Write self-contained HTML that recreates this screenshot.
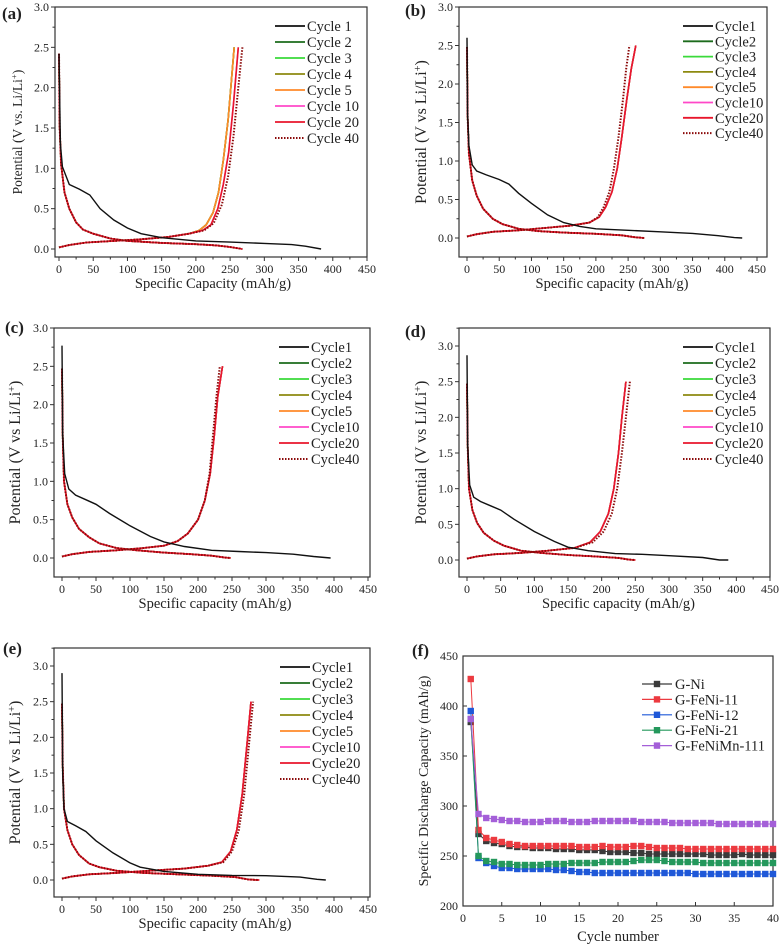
<!DOCTYPE html>
<html><head><meta charset="utf-8"><style>
html,body{margin:0;padding:0;background:#fff;width:780px;height:945px;overflow:hidden}
svg text{font-family:"Liberation Serif",serif;fill:#222}
</style></head><body>
<svg id="fig" width="780" height="945" viewBox="0 0 780 945" xmlns="http://www.w3.org/2000/svg"></svg>
<script>
// ---------- data: panel (a) ----------
const aC1 = [0,2.42, 2,1.3, 5,1.02, 15,0.8, 30,0.74, 45,0.67, 60,0.5, 80,0.36, 100,0.26, 120,0.19, 150,0.14, 200,0.1, 250,0.085, 300,0.07, 340,0.055, 360,0.035, 383,0];
const aDis = [0,2.42, 1,1.5, 3,1.05, 8,0.7, 15,0.5, 25,0.33, 35,0.24, 50,0.19, 75,0.13, 100,0.1, 150,0.075, 200,0.06, 230,0.045, 250,0.025, 268,0];
const aChE = [0,0.02, 15,0.05, 40,0.08, 80,0.1, 120,0.12, 160,0.15, 190,0.19, 205,0.23, 215,0.3, 225,0.45, 233,0.7, 240,1.1, 247,1.6, 252,2.1, 256,2.5];
const aChL = [0,0.02, 15,0.05, 40,0.08, 80,0.1, 120,0.12, 160,0.15, 190,0.19, 210,0.23, 222,0.3, 232,0.5, 240,0.8, 248,1.2, 255,1.8, 262,2.5];
const aCh40 = [0,0.02, 15,0.05, 40,0.08, 80,0.1, 120,0.12, 160,0.15, 190,0.19, 212,0.23, 226,0.32, 238,0.55, 247,0.9, 255,1.4, 262,2.0, 268,2.5];
// ---------- data: panel (b) ----------
const bC1 = [0,2.6, 1,1.6, 3,1.2, 8,0.95, 15,0.87, 30,0.82, 50,0.76, 65,0.7, 80,0.58, 100,0.45, 125,0.3, 150,0.2, 175,0.15, 200,0.12, 250,0.1, 300,0.08, 350,0.06, 390,0.03, 415,0.005, 427,0];
const bDis = [0,2.48, 1,1.6, 3,1.1, 8,0.75, 15,0.55, 25,0.38, 40,0.25, 55,0.18, 80,0.12, 110,0.09, 150,0.07, 200,0.055, 240,0.035, 260,0.01, 275,0];
const bChE = [0,0.02, 15,0.05, 40,0.08, 80,0.1, 120,0.13, 160,0.16, 190,0.2, 205,0.27, 215,0.4, 225,0.6, 233,0.9, 240,1.3, 248,1.8, 255,2.2, 262,2.5];
const bCh40 = [0,0.02, 15,0.05, 40,0.08, 80,0.1, 120,0.13, 160,0.16, 190,0.2, 203,0.27, 212,0.4, 221,0.6, 228,0.9, 235,1.3, 242,1.8, 247,2.2, 252,2.5];
// ---------- data: panel (c) ----------
const cC1 = [0,2.77, 1,1.6, 4,1.1, 10,0.9, 20,0.82, 35,0.76, 50,0.7, 70,0.58, 100,0.42, 130,0.28, 150,0.21, 180,0.15, 220,0.1, 260,0.085, 300,0.07, 340,0.05, 370,0.02, 395,0];
const cDis = [0,2.47, 1,1.6, 3,1.0, 8,0.7, 15,0.53, 25,0.38, 40,0.27, 55,0.19, 80,0.13, 110,0.1, 150,0.07, 190,0.05, 220,0.03, 240,0.005, 248,0];
const cChE = [0,0.02, 15,0.05, 40,0.08, 80,0.1, 120,0.13, 150,0.16, 170,0.22, 185,0.32, 200,0.5, 210,0.75, 218,1.1, 224,1.6, 229,2.1, 236,2.5];
const cCh40 = [0,0.02, 15,0.05, 40,0.08, 80,0.1, 120,0.13, 150,0.16, 170,0.22, 185,0.32, 200,0.5, 210,0.75, 217,1.1, 222,1.6, 227,2.1, 232,2.5];
// ---------- data: panel (d) ----------
const dC1 = [0,2.87, 1,1.6, 4,1.05, 10,0.88, 20,0.82, 35,0.76, 50,0.7, 70,0.57, 100,0.4, 130,0.26, 150,0.18, 180,0.13, 220,0.09, 260,0.08, 300,0.06, 350,0.035, 375,0, 388,0];
const dDis = [0,2.47, 1,1.6, 3,1.0, 8,0.7, 15,0.52, 25,0.38, 40,0.27, 55,0.2, 80,0.13, 110,0.1, 150,0.07, 190,0.05, 225,0.03, 240,0.005, 250,0];
const dChE = [0,0.02, 15,0.05, 40,0.08, 80,0.1, 120,0.13, 160,0.17, 183,0.25, 198,0.4, 210,0.65, 218,1.0, 225,1.5, 230,2.0, 236,2.5];
const dCh40 = [0,0.02, 15,0.05, 40,0.08, 80,0.1, 120,0.13, 160,0.17, 187,0.25, 203,0.4, 215,0.65, 223,1.0, 230,1.5, 236,2.0, 242,2.5];
// ---------- data: panel (e) ----------
const eC1 = [0,2.9, 1,1.5, 3,1.0, 8,0.82, 20,0.76, 35,0.68, 50,0.55, 75,0.38, 100,0.24, 115,0.18, 150,0.12, 200,0.08, 250,0.065, 300,0.06, 350,0.04, 375,0.01, 388,0];
const eDis = [0,2.47, 1,1.6, 3,1.0, 8,0.7, 15,0.5, 25,0.35, 40,0.23, 55,0.18, 80,0.13, 120,0.1, 170,0.08, 220,0.06, 255,0.04, 275,0.005, 290,0];
const eChE = [0,0.02, 15,0.05, 40,0.08, 80,0.1, 130,0.13, 180,0.16, 215,0.2, 235,0.25, 248,0.4, 257,0.7, 265,1.2, 271,1.8, 275,2.2, 278,2.5];
const eCh40 = [0,0.02, 15,0.05, 40,0.08, 80,0.1, 130,0.13, 180,0.16, 215,0.2, 237,0.25, 250,0.4, 260,0.7, 268,1.2, 274,1.8, 278,2.2, 281,2.5];
// ---------- data: panel (f) ----------
const fCycles = [1,2,3,4,5,6,7,8,9,10,11,12,13,14,15,16,17,18,19,20,21,22,23,24,25,26,27,28,29,30,31,32,33,34,35,36,37,38,39,40];
const fGNi = [384,272,265,263,262,260,259,259,258,258,258,257,257,257,256,256,256,255,254,254,254,253,253,252,252,252,252,252,252,252,252,251,251,251,251,252,251,251,251,251];
const fFeNi11 = [427,276,268,266,264,262,261,260,260,260,260,260,260,260,259,259,259,260,259,259,259,260,260,259,258,258,258,258,257,257,257,257,257,257,257,257,257,257,257,257];
const fFeNi12 = [395,248,243,240,238,238,237,237,237,237,237,236,236,235,234,234,233,233,233,233,233,233,233,233,233,233,233,233,233,232,232,232,232,232,232,232,232,232,232,232];
const fFeNi21 = [387,250,245,244,242,242,241,241,241,241,242,242,242,243,243,243,243,244,244,244,244,245,246,246,246,245,244,244,244,244,243,243,243,243,243,243,243,243,243,243];
const fMn111 = [387,292,288,287,286,285,285,284,284,284,285,285,285,284,284,284,285,285,285,285,285,285,284,284,284,284,283,283,283,283,283,283,282,282,282,282,282,282,282,282];
const xTicksCap = [0,50,100,150,200,250,300,350,400,450];
const yTicksV = ["0.0","0.5","1.0","1.5","2.0","2.5","3.0"];
const xTicksCyc = [0,5,10,15,20,25,30,35,40];
const yTicksCapF = [200,250,300,350,400,450];
const cycleNames = ["1","2","3","4","5","10","20","40"];
const fNames = ["G-Ni","G-FeNi-11","G-FeNi-12","G-FeNi-21","G-FeNiMn-111"];

const NS = "http://www.w3.org/2000/svg";
const svg = document.getElementById('fig');
function mk(tag, attrs, parent, name) {
  const e = document.createElementNS(NS, tag);
  for (const k in attrs) e.setAttribute(k, attrs[k]);
  
  
  (parent || svg).appendChild(e);
  return e;
}
const cycColors = ["#111111","#1c6b1c","#3ada3a","#8d8a10","#ff8a2a","#ff48c8","#e8162c","#8b0a0a"];

function capPanel(p) {
  const g = mk('g', {}, svg, 'panel-' + p.id);
  const xs = v => p.x0 + (v / 450) * (p.x450 - p.x0);
  const ys = v => p.y0 - v * (p.y0 - p.y3) / 3;
  mk('rect', {x:p.left, y:p.top, width:p.right - p.left, height:p.bottom - p.top, fill:'none', stroke:'#333', 'stroke-width':1.2}, g, 'plot-frame');
  xTicksCap.forEach((t, i) => {
    const x = xs(t);
    mk('line', {x1:x, y1:p.bottom, x2:x, y2:p.bottom + 4, stroke:'#333'}, g, 'x-tick');
    if (i < xTicksCap.length - 1) { const xm = xs(t + 25); mk('line', {x1:xm, y1:p.bottom, x2:xm, y2:p.bottom + 2.5, stroke:'#333'}, g, 'x-minor-tick'); }
    const tx = mk('text', {x:x, y:p.bottom + 16, 'text-anchor':'middle', 'font-size':12}, g, 'x-tick-label'); tx.textContent = t;
  });
  yTicksV.forEach(t => {
    const y = ys(parseFloat(t));
    if (y < p.top - 1) return;
    mk('line', {x1:p.left, y1:y, x2:p.left - 4, y2:y, stroke:'#333'}, g, 'y-tick');
    const ym = ys(parseFloat(t) + 0.25);
    if (ym >= p.top) mk('line', {x1:p.left, y1:ym, x2:p.left - 2.5, y2:ym, stroke:'#333'}, g, 'y-minor-tick');
    const tx = mk('text', {x:p.left - 6, y:y + 4, 'text-anchor':'end', 'font-size':12}, g, 'y-tick-label'); tx.textContent = t;
  });
  const xt = mk('text', {x:(p.x0 + p.x450) / 2, y:p.bottom + 31, 'text-anchor':'middle', 'font-size':14.5}, g, 'x-axis-title'); xt.textContent = p.xTitle;
  const yt = mk('text', {x:0, y:0, 'text-anchor':'middle', 'font-size':p.ytSize, transform:`translate(${p.ytx},${(p.top + p.bottom) / 2}) rotate(-90)`}, g, 'y-axis-title');
  yt.textContent = p.yTitle; const sup = document.createElementNS(NS, 'tspan'); sup.setAttribute('dy', -5); sup.setAttribute('font-size', p.ytSize * 0.65); sup.textContent = '+'; yt.appendChild(sup);
  const sp = document.createElementNS(NS, 'tspan'); sp.setAttribute('dy', 5); sp.textContent = ')'; yt.appendChild(sp);
  const lb = mk('text', {x:p.lx, y:p.ly, 'font-size':17, 'font-weight':'bold'}, g, 'panel-label'); lb.textContent = '(' + p.id + ')';
  const path = arr => { let d = ''; for (let i = 0; i < arr.length; i += 2) d += (i ? 'L' : 'M') + xs(arr[i]).toFixed(1) + ' ' + ys(arr[i + 1]).toFixed(1); return d; };
  // cycles 2..40 discharge + charge, then cycle1
  const charges = [null, p.chE, p.chE, p.chE, p.chE, p.chL, p.chL, p.ch40];
  for (let k = 1; k < 8; k++) {
    const dashed = k === 7;
    const attrs = {fill:'none', stroke:cycColors[k], 'stroke-width':dashed ? 2 : 1.6};
    if (dashed) attrs['stroke-dasharray'] = '1.5 1.5';
    mk('path', Object.assign({d:path(p.dis)}, attrs), g, 'cycle-' + cycleNames[k] + '-discharge');
    mk('path', Object.assign({d:path(charges[k])}, attrs), g, 'cycle-' + cycleNames[k] + '-charge');
  }
  mk('path', {d:path(p.c1), fill:'none', stroke:cycColors[0], 'stroke-width':1.4}, g, 'cycle-1-discharge');
  cycleNames.forEach((n, i) => {
    const y = p.legY + i * p.legStep;
    const le = mk('g', {}, g, 'legend-entry');
    const attrs = {x1:p.legX, y1:y, x2:p.legX + 30, y2:y, stroke:cycColors[i], 'stroke-width':i === 7 ? 2 : 1.8};
    if (i === 7) attrs['stroke-dasharray'] = '1.5 1.5';
    mk('line', attrs, le, 'legend-line');
    const t = mk('text', {x:p.legX + 32, y:y + 5, 'font-size':14.5}, le, 'legend-label'); t.textContent = 'Cycle' + p.sep + n;
  });
}

capPanel({id:'a', left:55, right:367, top:7, bottom:257, x0:59, x450:367, y3:7, y0:249, c1:aC1, dis:aDis, chE:aChE, chL:aChL, ch40:aCh40,
  xTitle:'Specific Capacity (mAh/g)', yTitle:'Potential (V vs. Li/Li', ytx:22, ytSize:13.5, lx:2, ly:19, legX:275, legY:26, legStep:16, sep:' '});
capPanel({id:'b', left:459, right:767, top:7, bottom:257, x0:467, x450:757, y3:7, y0:238, c1:bC1, dis:bDis, chE:bChE, chL:bChE, ch40:bCh40,
  xTitle:'Specific capacity (mAh/g)', yTitle:'Potential (V vs Li/Li', ytx:426, ytSize:16, lx:405, ly:16, legX:683, legY:26, legStep:15.3, sep:''});
capPanel({id:'c', left:54, right:370, top:328, bottom:577, x0:62, x450:368, y3:328, y0:558, c1:cC1, dis:cDis, chE:cChE, chL:cChE, ch40:cCh40,
  xTitle:'Specific capacity (mAh/g)', yTitle:'Potential (V vs Li/Li', ytx:20, ytSize:16, lx:5, ly:333, legX:279, legY:347, legStep:16, sep:''});
capPanel({id:'d', left:459, right:770, top:328, bottom:577, x0:467, x450:770, y3:346, y0:560, c1:dC1, dis:dDis, chE:dChE, chL:dChE, ch40:dCh40,
  xTitle:'Specific capacity (mAh/g)', yTitle:'Potential (V vs Li/Li', ytx:426, ytSize:16, lx:405, ly:337, legX:683, legY:347, legStep:16, sep:''});
capPanel({id:'e', left:54, right:370, top:648, bottom:897, x0:62, x450:368, y3:666, y0:880, c1:eC1, dis:eDis, chE:eChE, chL:eChE, ch40:eCh40,
  xTitle:'Specific capacity (mAh/g)', yTitle:'Potential (V vs Li/Li', ytx:20, ytSize:16, lx:3, ly:654, legX:280, legY:667, legStep:16, sep:''});

// ---------- panel (f) ----------
(function () {
  const L = 463, R = 773, T = 656, B = 906;
  const g = mk('g', {}, svg, 'panel-f');
  const xs = v => L + v / 40 * (R - L);
  const ys = v => B - (v - 200) / 250 * (B - T);
  mk('rect', {x:L, y:T, width:R - L, height:B - T, fill:'none', stroke:'#333', 'stroke-width':1.2}, g, 'plot-frame');
  xTicksCyc.forEach(t => {
    mk('line', {x1:xs(t), y1:B, x2:xs(t), y2:B - 4, stroke:'#333'}, g, 'x-tick');
    const tx = mk('text', {x:xs(t), y:B + 16, 'text-anchor':'middle', 'font-size':12}, g, 'x-tick-label'); tx.textContent = t;
  });
  yTicksCapF.forEach(t => {
    mk('line', {x1:L, y1:ys(t), x2:L + 4, y2:ys(t), stroke:'#333'}, g, 'y-tick');
    const tx = mk('text', {x:L - 5, y:ys(t) + 4, 'text-anchor':'end', 'font-size':12}, g, 'y-tick-label'); tx.textContent = t;
  });
  const xt = mk('text', {x:(L + R) / 2, y:B + 35, 'text-anchor':'middle', 'font-size':14.5}, g, 'x-axis-title'); xt.textContent = 'Cycle number';
  const yt = mk('text', {x:0, y:0, 'text-anchor':'middle', 'font-size':14, transform:`translate(428,${(T + B) / 2}) rotate(-90)`}, g, 'y-axis-title'); yt.textContent = 'Specific Discharge Capacity (mAh/g)';
  const lb = mk('text', {x:412, y:656, 'font-size':17, 'font-weight':'bold'}, g, 'panel-label'); lb.textContent = '(f)';
  const series = [fGNi, fFeNi11, fFeNi12, fFeNi21, fMn111];
  const cols = ['#3a3a3a', '#ec3a40', '#1f58d8', '#24985c', '#a45fd8'];
  series.forEach((s, k) => {
    const sg = mk('g', {}, g, 'series-' + fNames[k].toLowerCase());
    let d = '';
    s.forEach((v, i) => { d += (i ? 'L' : 'M') + xs(fCycles[i]).toFixed(1) + ' ' + ys(v).toFixed(1); });
    mk('path', {d:d, fill:'none', stroke:cols[k], 'stroke-width':1}, sg, 'series-line');
    s.forEach((v, i) => {
      mk('rect', {x:xs(fCycles[i]) - 3.2, y:ys(v) - 3.2, width:6.4, height:6.4, fill:cols[k]}, sg, 'data-point');
    });
    const y = 684 + k * 15.4;
    const le = mk('g', {}, g, 'legend-entry');
    mk('line', {x1:642, y1:y, x2:672, y2:y, stroke:cols[k], 'stroke-width':1.2}, le, 'legend-line');
    mk('rect', {x:653.8, y:y - 3.2, width:6.4, height:6.4, fill:cols[k]}, le, 'legend-marker');
    const t = mk('text', {x:675, y:y + 5, 'font-size':14.5}, le, 'legend-label'); t.textContent = fNames[k];
  });
})();
</script>
</body></html>
